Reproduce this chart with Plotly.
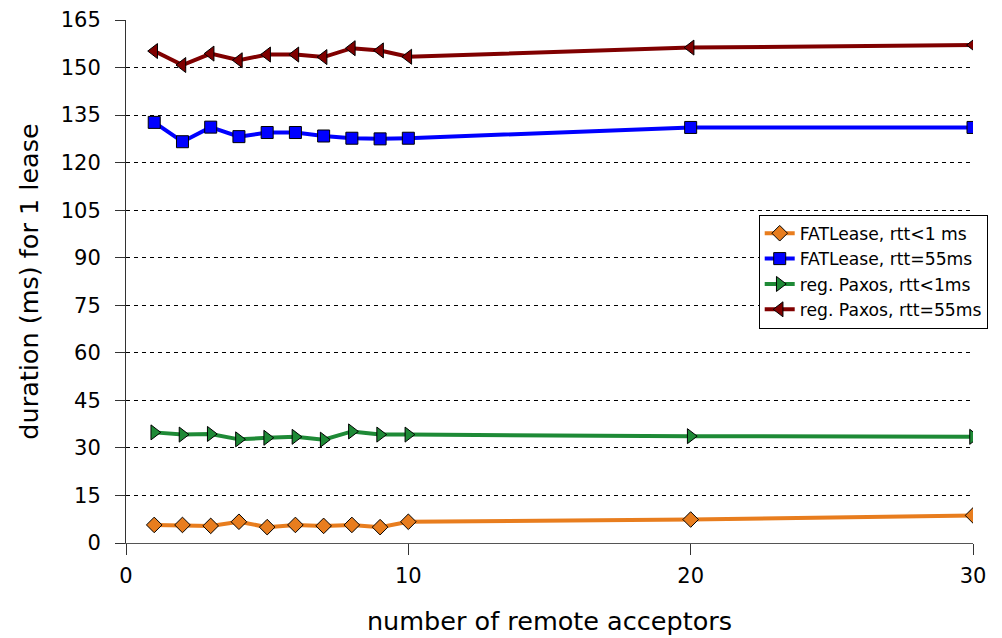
import plotly.graph_objects as go

# number of remote acceptors
acceptors = [1, 2, 3, 4, 5, 6, 7, 8, 9, 10, 20, 30]

# duration (ms) for one lease, per configuration
fatlease_lan = [5.7, 5.7, 5.4, 6.7, 5.0, 5.7, 5.4, 5.7, 5.0, 6.7, 7.4, 8.7]
fatlease_wan = [132.7, 126.6, 131.2, 128.2, 129.5, 129.5, 128.4, 127.7, 127.5, 127.7, 131.1, 131.1]
paxos_lan = [34.9, 34.2, 34.4, 32.7, 33.2, 33.5, 32.6, 35.2, 34.2, 34.2, 33.7, 33.5]
paxos_wan = [155.2, 150.8, 154.4, 152.3, 154.1, 154.1, 153.3, 156.1, 155.4, 153.4, 156.3, 157.1]

series_names = [
    "FATLease, rtt<1 ms",
    "FATLease, rtt=55ms",
    "reg. Paxos, rtt<1ms",
    "reg. Paxos, rtt=55ms",
]
y_ticks = list(range(0, 166, 15))
x_ticks = [0, 10, 20, 30]

FONT = "DejaVu Sans"

styles = [
    (fatlease_lan, "#E87D1E", "diamond", 12),
    (fatlease_wan, "#0000FF", "square", 12),
    (paxos_lan, "#1E8A36", "triangle-right", 13),
    (paxos_wan, "#800000", "triangle-left", 13),
]

fig = go.Figure()
for name, (values, color, symbol, size) in zip(series_names, styles):
    fig.add_trace(go.Scatter(
        x=acceptors,
        y=values,
        name=name,
        mode="lines+markers",
        line=dict(color=color, width=4),
        marker=dict(symbol=symbol, size=size, color=color,
                    line=dict(color="#000000", width=1)),
    ))

fig.update_layout(
    width=1002,
    height=638,
    margin=dict(l=126, r=29, t=20, b=95, autoexpand=False),
    paper_bgcolor="white",
    plot_bgcolor="white",
    font=dict(family=FONT, color="black", size=20),
    showlegend=True,
    legend=dict(
        x=0.747, y=0.628, xanchor="left", yanchor="top",
        bordercolor="black", borderwidth=1, bgcolor="white",
        font=dict(family=FONT, size=17.2, color="black"),
        itemwidth=30, tracegroupgap=0,
    ),
    xaxis=dict(
        range=[0, 30],
        tickvals=x_ticks,
        ticks="outside", ticklen=11, tickcolor="#333333", tickwidth=1,
        showline=True, linecolor="#555555", linewidth=1,
        showgrid=False, zeroline=False,
        tickfont=dict(family=FONT, size=21),
        ticklabelstandoff=3,
        title=dict(text="number of remote acceptors",
                   font=dict(family=FONT, size=25.5), standoff=24),
    ),
    yaxis=dict(
        range=[0, 165],
        tickvals=y_ticks,
        ticks="outside", ticklen=10, tickcolor="#333333", tickwidth=1,
        showline=True, linecolor="#333333", linewidth=1,
        showgrid=True, gridcolor="#000000", gridwidth=1, griddash="4px,4px",
        zeroline=False,
        tickfont=dict(family=FONT, size=21),
        ticklabelstandoff=10,
        title=dict(text="duration (ms) for 1 lease",
                   font=dict(family=FONT, size=25.5), standoff=14),
    ),
)

fig.write_html("out.html")
